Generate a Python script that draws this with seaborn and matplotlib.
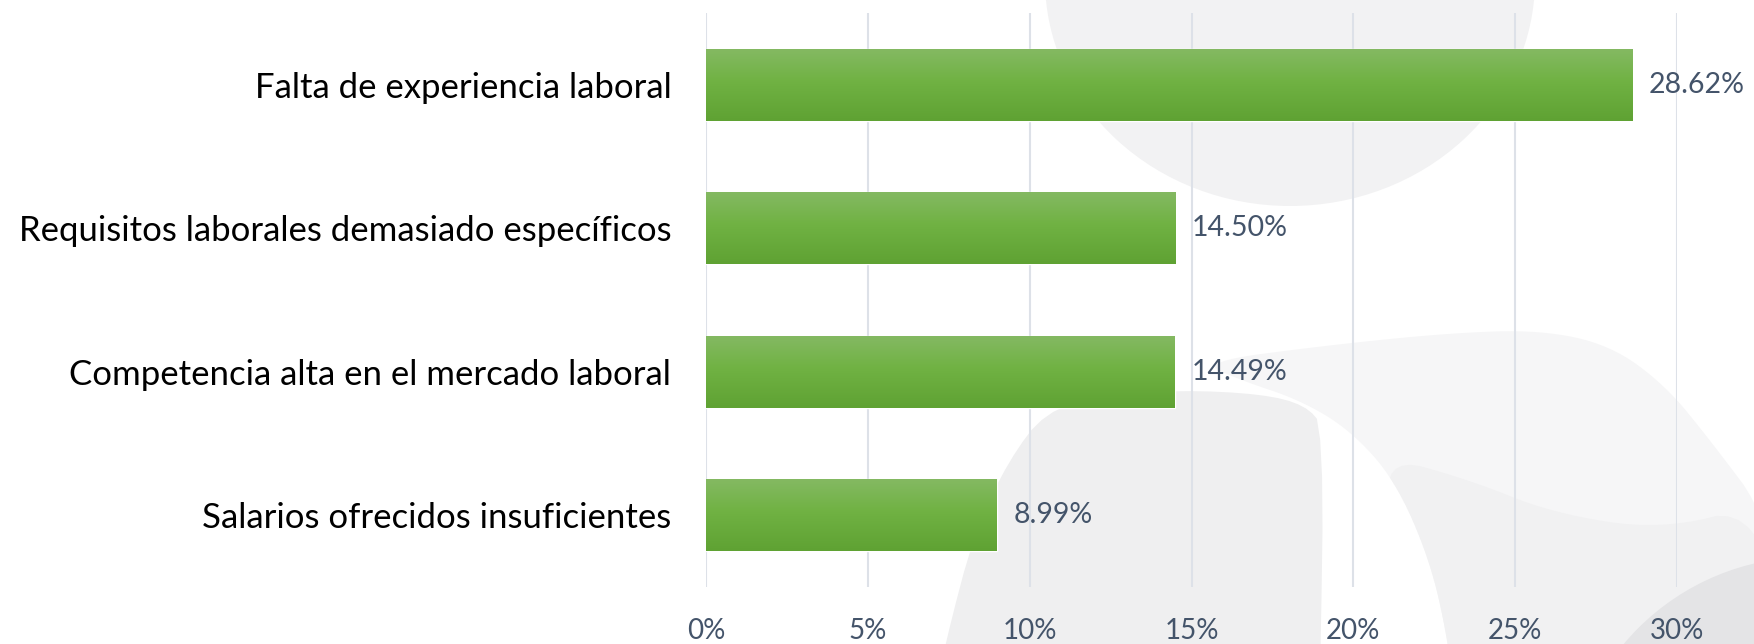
import numpy as np
import pandas as pd
import seaborn as sns
import matplotlib
matplotlib.use("Agg")
import matplotlib.pyplot as plt
from matplotlib.patches import Polygon, Ellipse, Circle
from matplotlib.ticker import FuncFormatter

categories = [
    "Falta de experiencia laboral",
    "Requisitos laborales demasiado específicos",
    "Competencia alta en el mercado laboral",
    "Salarios ofrecidos insuficientes",
]
values = [28.62, 14.50, 14.49, 8.99]
value_labels = ["28.62%", "14.50%", "14.49%", "8.99%"]
x_ticks = [0, 5, 10, 15, 20, 25, 30]

sns.set_theme(style="white")
plt.rcParams["font.family"] = ["Lato", "DejaVu Sans"]

W, H = 1754, 644
fig = plt.figure(figsize=(W / 100, H / 100), dpi=100)
fig.patch.set_facecolor("white")


def smooth(pts, it=3):
    p = np.asarray(pts, float)
    for _ in range(it):
        q = np.roll(p, -1, axis=0)
        a = 0.75 * p + 0.25 * q
        b = 0.25 * p + 0.75 * q
        p = np.empty((2 * len(a), 2))
        p[0::2] = a
        p[1::2] = b
    return p


# background watermark shapes (pixel coordinates)
bg = fig.add_axes([0, 0, 1, 1], zorder=0)
bg.set_xlim(0, W)
bg.set_ylim(H, 0)
bg.axis("off")
bg.add_patch(Ellipse((1290, -20), 490, 452, color="#f2f2f3", lw=0))
right_shape = [(1200, 362), (1330, 345), (1450, 333), (1540, 330), (1610, 345),
               (1665, 385), (1710, 440), (1770, 520), (1800, 700), (1454, 700),
               (1448, 640), (1430, 560), (1395, 480), (1350, 430), (1300, 400),
               (1240, 380)]
rs = Polygon(smooth(right_shape), closed=True, color="#f6f6f7", lw=0)
bg.add_patch(rs)
right_lower = [(1380, 455), (1470, 480), (1552, 513), (1660, 530), (1760, 505),
               (1800, 700), (1440, 700), (1400, 560)]
rl = Polygon(smooth(right_lower), closed=True, color="#f1f1f2", lw=0)
bg.add_patch(rl)
rl.set_clip_path(rs)
left_shape = [(930, 720), (945, 644), (975, 530), (1009, 460), (1045, 412),
              (1100, 396), (1180, 390), (1262, 394), (1305, 405), (1324, 427),
              (1320, 700), (1316, 720)]
bg.add_patch(Polygon(smooth(left_shape, 2), closed=True, color="#efeff0", lw=0))
bg.add_patch(Circle((1810, 800), 243, color="#e4e4e6", lw=0))

# main axes
left = 706 / W
right = 1677 / W
top = 1 - 13 / H
bottom = 1 - 587 / H
ax = fig.add_axes([left, bottom, right - left, top - bottom], zorder=1)
ax.patch.set_alpha(0)

df = pd.DataFrame({"cat": categories, "val": values})
sns.barplot(data=df, x="val", y="cat", orient="h", width=0.5,
            color="#70b244", ax=ax, zorder=2)

# vertical gradient on each bar
top_c = np.array([0x84, 0xb9, 0x62]) / 255
mid_c = np.array([0x70, 0xb2, 0x43]) / 255
bot_c = np.array([0x5f, 0xa2, 0x33]) / 255
n = 100
t = np.linspace(0, 1, n)[:, None]
grad = np.where(t < 0.45, top_c + (mid_c - top_c) * (t / 0.45),
                mid_c + (bot_c - mid_c) * ((t - 0.45) / 0.55))
grad = grad[:, None, :]
for p in list(ax.patches):
    x0, y0, w, h = p.get_x(), p.get_y(), p.get_width(), p.get_height()
    ax.imshow(grad, extent=[x0, x0 + w, y0 + h, y0], origin="upper",
              aspect="auto", zorder=3, interpolation="bilinear")

for i, (v, lab) in enumerate(zip(values, value_labels)):
    ax.annotate(lab, xy=(v, i), xytext=(12, 0), textcoords="offset points",
                va="center", ha="left", fontsize=20.5, color="#44546a", zorder=4)

ax.set_xlim(0, 30)
ax.set_ylim(3.5, -0.5)
ax.set_xticks(x_ticks)
ax.xaxis.set_major_formatter(FuncFormatter(lambda v, _: f"{int(v)}%"))
ax.grid(axis="x", color="#dde1e8", linewidth=1.5, zorder=0)
ax.set_axisbelow(True)
for s in ax.spines.values():
    s.set_visible(False)
ax.set_xlabel("")
ax.set_ylabel("")
ax.tick_params(axis="x", length=0, pad=22, labelsize=20, labelcolor="#44546a")
ax.tick_params(axis="y", length=0, pad=25, labelsize=25, labelcolor="#000000")

fig.savefig("out.png", dpi=100)
